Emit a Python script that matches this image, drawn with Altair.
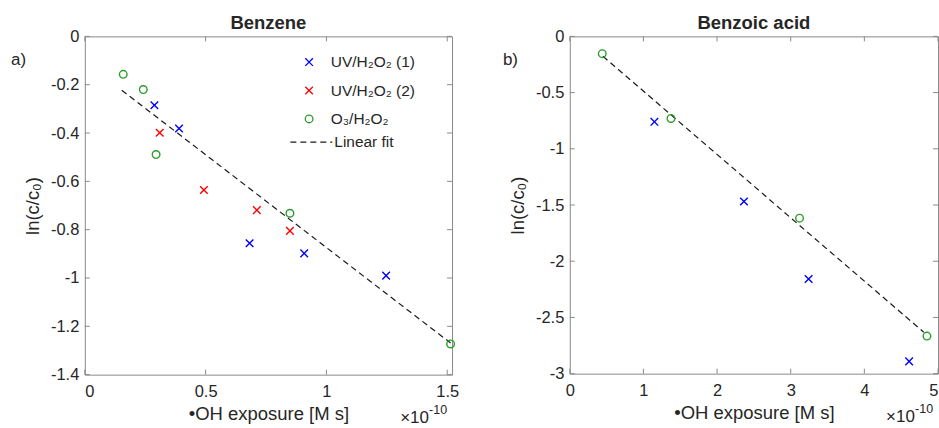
import altair as alt
import pandas as pd

# ---- data (x values in units of 1e-10 M s) ----
series_names = ["UV/H₂O₂ (1)", "UV/H₂O₂ (2)", "O₃/H₂O₂"]
fit_name = "Linear fit"

benz_uv1_x = [0.288, 0.390, 0.682, 0.908, 1.247]
benz_uv1_y = [-0.285, -0.381, -0.856, -0.898, -0.990]
benz_uv2_x = [0.310, 0.493, 0.712, 0.849]
benz_uv2_y = [-0.399, -0.636, -0.719, -0.805]
benz_o3_x = [0.159, 0.242, 0.295, 0.849, 1.514]
benz_o3_y = [-0.157, -0.220, -0.489, -0.732, -1.273]
benz_fit_x = [0.153, 1.514]
benz_fit_y = [-0.223, -1.269]

ba_uv1_x = [1.149, 2.365, 3.243, 4.608]
ba_uv1_y = [-0.760, -1.469, -2.158, -2.891]
ba_o3_x = [0.441, 1.374, 3.120, 4.850]
ba_o3_y = [-0.154, -0.730, -1.617, -2.666]
ba_fit_x = [0.450, 4.806]
ba_fit_y = [-0.177, -2.631]

benz_xticks = [0, 0.5, 1, 1.5]
benz_yticks = [0, -0.2, -0.4, -0.6, -0.8, -1, -1.2, -1.4]
ba_xticks = [0, 1, 2, 3, 4, 5]
ba_yticks = [0, -0.5, -1, -1.5, -2, -2.5, -3]

FONT = "Liberation Sans"
TXT = "#262626"
BOX = "#8a8a8a"
XPATH = "M-1,-1L1,1M1,-1L-1,1"


def pts_frame(groups):
    rows = []
    for name, xs, ys in groups:
        for x, y in zip(xs, ys):
            rows.append({"x": x, "y": y, "series": name})
    return pd.DataFrame(rows)


def panel(title, letter, letter_dx, groups, fitx, fity, xdom, ydom, xticks, yticks, W, H,
          show_legend, flush_last):
    xs = alt.Scale(domain=xdom, nice=False, zero=False)
    ys = alt.Scale(domain=ydom, nice=False, zero=False)
    pts = pts_frame(groups)
    fit = pd.DataFrame({"x": fitx, "y": fity, "kind": [fit_name] * len(fitx)})

    if show_legend:
        leg = alt.Legend(title=None, orient="none", legendX=217, legendY=18,
                         labelFontSize=15.5, labelColor=TXT, labelFont=FONT,
                         labelOffset=14, rowPadding=11.5, symbolStrokeWidth=1.3)
        leg2 = alt.Legend(title=None, orient="none", legendX=205, legendY=84,
                          labelFontSize=15.5, labelColor=TXT, labelFont=FONT,
                          labelOffset=1, symbolType="stroke", symbolSize=1764,
                          symbolStrokeColor="#1a1a1a", symbolStrokeWidth=1.2)
    else:
        leg = None
        leg2 = None

    xaxis_kw = dict(title="•OH exposure [M s]", values=xticks, domain=False, ticks=False,
                    grid=False, labelExpr="toString(datum.value)", labelPadding=9,
                    titlePadding=4)
    if flush_last is not None:
        xaxis_kw["labelAlign"] = {"condition": {"test": f"datum.value == {flush_last}",
                                                "value": "right"}, "value": "center"}
    xaxis = alt.Axis(**xaxis_kw)
    yaxis = alt.Axis(title="ln(c/c₀)", values=yticks, domain=False, ticks=False, grid=False,
                     labelExpr="toString(datum.value)", labelPadding=6, titlePadding=8)

    line = alt.Chart(fit).mark_line(color="#1a1a1a", strokeWidth=1.2).encode(
        x=alt.X("x:Q", scale=xs, axis=xaxis),
        y=alt.Y("y:Q", scale=ys, axis=yaxis),
        strokeDash=alt.StrokeDash("kind:N", scale=alt.Scale(domain=[fit_name], range=[[6, 4]]),
                                  legend=leg2),
    )

    points = alt.Chart(pts).mark_point(filled=False, strokeWidth=1.4, opacity=1).encode(
        x=alt.X("x:Q", scale=xs, axis=xaxis),
        y=alt.Y("y:Q", scale=ys, axis=yaxis),
        color=alt.Color("series:N", scale=alt.Scale(domain=series_names,
                        range=["#0000ff", "#ff0000", "#2a9d2a"]), legend=leg),
        shape=alt.Shape("series:N", scale=alt.Scale(domain=series_names,
                        range=[XPATH, XPATH, "circle"]), legend=leg),
        size=alt.Size("series:N", scale=alt.Scale(domain=series_names,
                      range=[58, 58, 170]), legend=leg),
    )

    xt = pd.DataFrame({"t": xticks})
    yt = pd.DataFrame({"t": yticks})
    bt = alt.Chart(xt).mark_rule(color=BOX, strokeWidth=1).encode(
        x=alt.X("t:Q", scale=xs, axis=xaxis), y=alt.value(H), y2=alt.value(H - 5))
    tt = alt.Chart(xt).mark_rule(color=BOX, strokeWidth=1).encode(
        x=alt.X("t:Q", scale=xs, axis=xaxis), y=alt.value(0), y2=alt.value(5))
    lt = alt.Chart(yt).mark_rule(color=BOX, strokeWidth=1).encode(
        y=alt.Y("t:Q", scale=ys, axis=yaxis), x=alt.value(0), x2=alt.value(5))
    rt = alt.Chart(yt).mark_rule(color=BOX, strokeWidth=1).encode(
        y=alt.Y("t:Q", scale=ys, axis=yaxis), x=alt.value(W), x2=alt.value(W - 5))

    lab = alt.Chart(pd.DataFrame({"s": [letter]})).mark_text(
        align="left", baseline="middle", fontSize=17, font=FONT, color=TXT).encode(
        text="s:N", x=alt.value(letter_dx), y=alt.value(24))
    exp1 = alt.Chart(pd.DataFrame({"s": ["×10"]})).mark_text(
        align="left", baseline="alphabetic", fontSize=17, font=FONT, color=TXT).encode(
        text="s:N", x=alt.value(W - 52), y=alt.value(H + 48))
    exp2 = alt.Chart(pd.DataFrame({"s": ["-10"]})).mark_text(
        align="left", baseline="alphabetic", fontSize=12.5, font=FONT, color=TXT).encode(
        text="s:N", x=alt.value(W - 23), y=alt.value(H + 39))

    return alt.layer(line, points, bt, tt, lt, rt, lab, exp1, exp2).properties(
        width=W, height=H,
        title=alt.Title(title, fontSize=18.5, fontWeight="bold", font=FONT, color=TXT, offset=-4),
    )


left = panel("Benzene", "a)", -74,
             [(series_names[0], benz_uv1_x, benz_uv1_y),
              (series_names[1], benz_uv2_x, benz_uv2_y),
              (series_names[2], benz_o3_x, benz_o3_y)],
             benz_fit_x, benz_fit_y, [0, 1.52], [-1.4, 0], benz_xticks, benz_yticks,
             368, 339, True, None)

right = panel("Benzoic acid", "b)", -67,
              [(series_names[0], ba_uv1_x, ba_uv1_y),
               (series_names[2], ba_o3_x, ba_o3_y)],
              ba_fit_x, ba_fit_y, [0, 5], [-3, 0], ba_xticks, ba_yticks,
              369, 338, False, 5)

chart = alt.hconcat(left, right, spacing=42).resolve_scale(
    color="independent", shape="independent", size="independent", strokeDash="independent"
).properties(
    padding={"left": 10, "top": 13, "right": 0, "bottom": 0},
    background="white",
).configure_view(stroke=BOX, strokeWidth=1).configure_axis(
    labelFont=FONT, titleFont=FONT, labelFontSize=16.5, titleFontSize=18.5,
    labelColor=TXT, titleColor=TXT, titleFontWeight="normal",
)

chart.save("out.html", embed_options={"renderer": "svg", "actions": False})
